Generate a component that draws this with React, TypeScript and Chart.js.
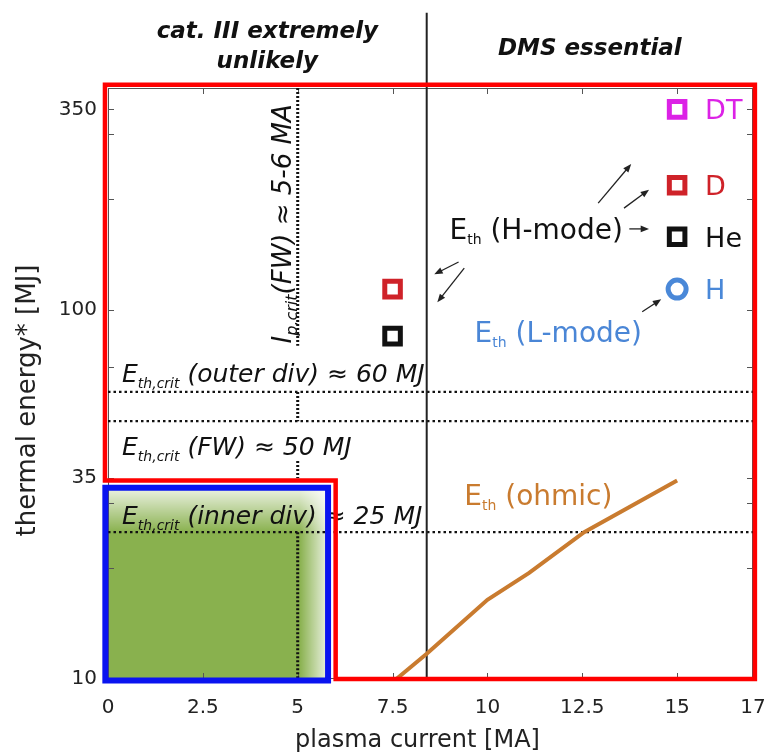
import React, { useEffect, useRef } from 'react';
import { Chart, registerables } from 'chart.js';

Chart.register(...registerables);

const FONT = 'DejaVu Sans';

// ---- axes ----
const xTicks = [0, 2.5, 5, 7.5, 10, 12.5, 15, 17];
const yTicks = [10, 35, 100, 350];
const yMinorTicks = [20, 30, 70, 200, 300];
const xMin = 0;
const xMax = 17;
const yMin = 10;
const yMax = 400;

// ---- ohmic thermal energy curve ----
const ohmicCurrent = [7.6, 8.4, 10, 11.1, 12.55, 15];
const ohmicEnergy = [10, 11.7, 16.4, 19.4, 25, 34.5];

// ---- H-mode / L-mode energies at 15 MA ----
const speciesNames = ['DT', 'D', 'He', 'H'];
const speciesEnergy = [350, 218, 158, 114];
const speciesColors = ['#dc22e6', '#cf2229', '#111111', '#4a88d8'];
const speciesStyles = ['rect', 'rect', 'rect', 'circle'];
const speciesCurrent = 15;

// ---- energies at 7.5 MA ----
const midCurrent = 7.5;
const midEnergy = [114, 85];
const midColors = ['#cf2229', '#111111'];

// ---- critical energies (horizontal dotted) ----
const critEnergies = [60, 50, 25];
const critLabelTexts = [' (outer div) ≈ 60 MJ', ' (FW) ≈ 50 MJ', ' (inner div) ≈ 25 MJ'];
const critLabelCurrent = 0.37;
const critLabelEnergy = [63.7, 40.6, 26.3];

// ---- critical current (vertical dotted, interrupted by labels) ----
const critCurrent = 5;
const critSegTop = [400, 60, 39, 25];
const critSegBottom = [80, 50, 35, 10];
const critCurrentLabel = '(FW) ≈ 5-6 MA';
const critCurrentLabelX = 4.82;
const critCurrentLabelY = 81.2;

// ---- region boundary ----
const boundaryCurrent = 8.4;
const boundaryEnergy = [10, 640];

// ---- red / blue zones ----
const redZoneX = [-0.08, 17.05, 17.05, 6, 6, -0.08, -0.08];
const redZoneY = [408, 408, 10, 10, 34.5, 34.5, 408];
const blueZoneX = [-0.07, 5.8, 5.8, -0.07, -0.07];
const blueZoneY = [33, 33, 9.9, 9.9, 33];
const greenFadeX = [5.05, 5.8];
const greenFadeY = [33, 25];

// ---- arrows ----
const arrowFromX = [12.92, 13.6, 13.74, 9.24, 9.39, 14.08];
const arrowFromY = [195, 189, 166, 135, 130, 99];
const arrowToX = [13.79, 14.26, 14.26, 8.6, 8.68, 14.58];
const arrowToY = [249, 212, 166, 125, 105, 107];

// ---- E_th labels ----
const modeTexts = [' (H-mode)', ' (L-mode)', ' (ohmic)'];
const modeColors = ['#111111', '#4a86d6', '#c97b2f'];
const modeX = [9.0, 9.66, 9.39];
const modeY = [156, 81.7, 29.6];

// ---- region titles ----
const regionTitles = [['cat. III extremely', 'unlikely'], ['DMS essential']];
const regionSpans = [[0, 8.4], [8.4, 17]];

const xTitle = 'plasma current [MA]';
const yTitle = 'thermal energy* [MJ]';

type Run = { t: string; sub?: boolean };

function drawRuns(
  ctx: CanvasRenderingContext2D,
  runs: Run[],
  x: number,
  y: number,
  mainFont: string,
  subFont: string,
  subShift: number
) {
  let cx = x;
  ctx.textAlign = 'left';
  ctx.textBaseline = 'alphabetic';
  for (const r of runs) {
    ctx.font = r.sub ? subFont : mainFont;
    ctx.fillText(r.t, cx, y + (r.sub ? subShift : 0));
    cx += ctx.measureText(r.t).width;
  }
}

function drawArrow(ctx: CanvasRenderingContext2D, x1: number, y1: number, x2: number, y2: number) {
  const head = 9;
  const a = Math.atan2(y2 - y1, x2 - x1);
  ctx.beginPath();
  ctx.moveTo(x1, y1);
  ctx.lineTo(x2 - 4 * Math.cos(a), y2 - 4 * Math.sin(a));
  ctx.stroke();
  ctx.beginPath();
  ctx.moveTo(x2, y2);
  ctx.lineTo(x2 - head * Math.cos(a - 0.38), y2 - head * Math.sin(a - 0.38));
  ctx.lineTo(x2 - head * Math.cos(a + 0.38), y2 - head * Math.sin(a + 0.38));
  ctx.closePath();
  ctx.fill();
}

const underlayPlugin = {
  id: 'underlay',
  beforeDatasetsDraw(chart: any) {
    const ctx: CanvasRenderingContext2D = chart.ctx;
    const xs = chart.scales.x;
    const ys = chart.scales.y;
    const { left, right, top, bottom } = chart.chartArea;
    ctx.save();

    // green safe zone
    const gx0 = xs.getPixelForValue(0);
    const gx1 = xs.getPixelForValue(blueZoneX[1]);
    const gy0 = ys.getPixelForValue(blueZoneY[0]);
    const gy1 = ys.getPixelForValue(10);
    ctx.fillStyle = '#89b14e';
    ctx.fillRect(gx0, gy0, gx1 - gx0, gy1 - gy0);
    const hx0 = xs.getPixelForValue(greenFadeX[0]);
    const hx1 = xs.getPixelForValue(greenFadeX[1]);
    const hg = ctx.createLinearGradient(hx0, 0, hx1, 0);
    hg.addColorStop(0, 'rgba(255,255,255,0)');
    hg.addColorStop(1, 'rgba(255,255,255,0.85)');
    ctx.fillStyle = hg;
    ctx.fillRect(hx0, gy0, gx1 - hx0, gy1 - gy0);
    const vy0 = ys.getPixelForValue(greenFadeY[0]);
    const vy1 = ys.getPixelForValue(greenFadeY[1]);
    const vg = ctx.createLinearGradient(0, vy0, 0, vy1);
    vg.addColorStop(0, 'rgba(255,255,255,0.85)');
    vg.addColorStop(1, 'rgba(255,255,255,0)');
    ctx.fillStyle = vg;
    ctx.fillRect(gx0, vy0, gx1 - gx0, vy1 - vy0);

    // axes frame
    ctx.strokeStyle = '#555';
    ctx.lineWidth = 1;
    ctx.strokeRect(left + 0.5, top + 0.5, right - left - 1, bottom - top - 1);
    ctx.beginPath();
    for (const v of xTicks) {
      const px = Math.round(xs.getPixelForValue(v)) + 0.5;
      ctx.moveTo(px, bottom);
      ctx.lineTo(px, bottom - 6);
      ctx.moveTo(px, top);
      ctx.lineTo(px, top + 6);
    }
    for (const v of [...yTicks, ...yMinorTicks]) {
      const py = Math.round(ys.getPixelForValue(v)) + 0.5;
      ctx.moveTo(left, py);
      ctx.lineTo(left + 6, py);
      ctx.moveTo(right, py);
      ctx.lineTo(right - 6, py);
    }
    ctx.stroke();

    // critical-energy labels
    ctx.fillStyle = '#111';
    critLabelTexts.forEach((t, i) => {
      drawRuns(
        ctx,
        [{ t: 'E' }, { t: 'th,crit', sub: true }, { t }],
        xs.getPixelForValue(critLabelCurrent),
        ys.getPixelForValue(critLabelEnergy[i]),
        `italic 25px "${FONT}"`,
        `italic 14px "${FONT}"`,
        6
      );
    });

    // critical-current label (vertical)
    ctx.save();
    ctx.translate(xs.getPixelForValue(critCurrentLabelX), ys.getPixelForValue(critCurrentLabelY));
    ctx.rotate(-Math.PI / 2);
    drawRuns(
      ctx,
      [{ t: 'I' }, { t: 'p,crit', sub: true }, { t: critCurrentLabel }],
      0,
      0,
      `italic 26px "${FONT}"`,
      `italic 16px "${FONT}"`,
      6
    );
    ctx.restore();

    // E_th mode labels
    modeTexts.forEach((t, i) => {
      ctx.fillStyle = modeColors[i];
      drawRuns(
        ctx,
        [{ t: 'E' }, { t: 'th', sub: true }, { t }],
        xs.getPixelForValue(modeX[i]),
        ys.getPixelForValue(modeY[i]),
        `28px "${FONT}"`,
        `14px "${FONT}"`,
        5
      );
    });
    ctx.restore();
  },
  afterDatasetsDraw(chart: any) {
    const ctx: CanvasRenderingContext2D = chart.ctx;
    const xs = chart.scales.x;
    const ys = chart.scales.y;
    const { left, right, top, bottom } = chart.chartArea;
    ctx.save();

    // arrows
    ctx.strokeStyle = '#222';
    ctx.fillStyle = '#222';
    ctx.lineWidth = 1.3;
    arrowFromX.forEach((_, i) => {
      drawArrow(
        ctx,
        xs.getPixelForValue(arrowFromX[i]),
        ys.getPixelForValue(arrowFromY[i]),
        xs.getPixelForValue(arrowToX[i]),
        ys.getPixelForValue(arrowToY[i])
      );
    });

    // species labels
    ctx.font = `27px "${FONT}"`;
    ctx.textAlign = 'left';
    ctx.textBaseline = 'alphabetic';
    speciesNames.forEach((n, i) => {
      ctx.fillStyle = speciesColors[i];
      ctx.fillText(n, xs.getPixelForValue(speciesCurrent) + 28, ys.getPixelForValue(speciesEnergy[i]) + 10);
    });

    // region titles
    ctx.fillStyle = '#111';
    ctx.font = `italic bold 23px "${FONT}"`;
    ctx.textAlign = 'center';
    regionTitles.forEach((lines, i) => {
      const cx = (xs.getPixelForValue(regionSpans[i][0]) + xs.getPixelForValue(regionSpans[i][1])) / 2;
      const startY = lines.length === 2 ? top - 50 : top - 33;
      lines.forEach((l, j) => ctx.fillText(l, cx, startY + j * 30));
    });

    // axis titles
    ctx.fillStyle = '#222';
    ctx.font = `24px "${FONT}"`;
    ctx.textAlign = 'center';
    ctx.fillText(xTitle, (left + right) / 2 - 13, chart.height - 8);
    ctx.save();
    ctx.translate(28, (top + bottom) / 2 + 17);
    ctx.rotate(-Math.PI / 2);
    ctx.font = `26px "${FONT}"`;
    ctx.textBaseline = 'middle';
    ctx.fillText(yTitle, 0, 0);
    ctx.restore();

    ctx.restore();
  },
};

export default function App() {
  const ref = useRef<HTMLCanvasElement | null>(null);

  useEffect(() => {
    if (!ref.current) return;
    const pts = (xs: number[], ys: number[]) => xs.map((x, i) => ({ x, y: ys[i] }));

    const critSegData: any[] = [];
    critSegTop.forEach((t, i) => {
      if (i > 0) critSegData.push({ x: critCurrent, y: null });
      critSegData.push({ x: critCurrent, y: t });
      critSegData.push({ x: critCurrent, y: critSegBottom[i] });
    });

    const lineBase = { showLine: true, pointRadius: 0, fill: false, tension: 0 };

    const datasets: any[] = [
      {
        label: 'H-mode species',
        data: speciesEnergy.map((e) => ({ x: speciesCurrent, y: e })),
        pointStyle: speciesStyles,
        pointRadius: speciesStyles.map((s) => (s === 'circle' ? 9 : 11)),
        pointBorderWidth: 5,
        pointBorderColor: speciesColors,
        pointBackgroundColor: '#ffffff',
        showLine: false,
        order: 0,
      },
      {
        label: '7.5 MA',
        data: midEnergy.map((e) => ({ x: midCurrent, y: e })),
        pointStyle: 'rect',
        pointRadius: 11,
        pointBorderWidth: 5,
        pointBorderColor: midColors,
        pointBackgroundColor: '#ffffff',
        showLine: false,
        order: 1,
      },
      {
        ...lineBase,
        label: 'blue zone',
        data: pts(blueZoneX, blueZoneY),
        borderColor: '#0a14f0',
        borderWidth: 6,
        borderCapStyle: 'square',
        borderJoinStyle: 'miter',
        clip: false,
        order: 2,
      },
      {
        ...lineBase,
        label: 'red zone',
        data: pts(redZoneX, redZoneY),
        borderColor: '#ff0000',
        borderWidth: 4.5,
        borderCapStyle: 'square',
        borderJoinStyle: 'miter',
        clip: false,
        order: 3,
      },
      {
        ...lineBase,
        label: 'ohmic',
        data: pts(ohmicCurrent, ohmicEnergy),
        borderColor: '#c97b2f',
        borderWidth: 4,
        order: 4,
      },
      {
        ...lineBase,
        label: 'boundary',
        data: boundaryEnergy.map((e) => ({ x: boundaryCurrent, y: e })),
        borderColor: '#222',
        borderWidth: 2,
        clip: false,
        order: 5,
      },
      ...critEnergies.map((e, i) => ({
        ...lineBase,
        label: 'crit ' + e,
        data: [
          { x: xMin, y: e },
          { x: xMax, y: e },
        ],
        borderColor: '#111',
        borderWidth: 2.2,
        borderDash: [2.5, 3],
        order: 6 + i,
      })),
      {
        ...lineBase,
        label: 'crit current',
        data: critSegData,
        spanGaps: false,
        borderColor: '#111',
        borderWidth: 3,
        borderDash: [2, 2],
        order: 10,
      },
    ];

    const chart = new Chart(ref.current, {
      type: 'scatter',
      data: { datasets },
      options: {
        animation: false,
        responsive: false,
        events: [],
        layout: { padding: { left: 0, right: 15, top: 88, bottom: 0 } },
        plugins: { legend: { display: false }, tooltip: { enabled: false } },
        scales: {
          x: {
            type: 'linear',
            min: xMin,
            max: xMax,
            grid: { display: false, drawTicks: false },
            border: { display: false },
            afterBuildTicks: (s: any) => {
              s.ticks = xTicks.map((v) => ({ value: v }));
            },
            afterFit: (s: any) => {
              s.height = 76;
              s.paddingLeft = 0;
              s.paddingRight = 0;
            },
            ticks: {
              font: { family: FONT, size: 20 },
              color: '#222',
              padding: 17,
              maxRotation: 0,
              autoSkip: false,
              callback: (v: any) => String(v),
            },
          },
          y: {
            type: 'logarithmic',
            min: yMin,
            max: yMax,
            grid: { display: false, drawTicks: false },
            border: { display: false },
            afterBuildTicks: (s: any) => {
              s.ticks = yTicks.map((v) => ({ value: v }));
            },
            afterFit: (s: any) => {
              s.width = 108;
              s.paddingTop = 0;
              s.paddingBottom = 0;
            },
            ticks: {
              font: { family: FONT, size: 20 },
              color: '#222',
              padding: 11,
              autoSkip: false,
              callback: (v: any) => String(v),
            },
          },
        },
      },
      plugins: [underlayPlugin],
    } as any);

    return () => chart.destroy();
  }, []);

  return (
    <div style={{ position: 'absolute', left: 0, top: 0, width: 769, height: 755, background: '#fff' }}>
      <canvas ref={ref} width={769} height={755} style={{ display: 'block' }} />
    </div>
  );
}
